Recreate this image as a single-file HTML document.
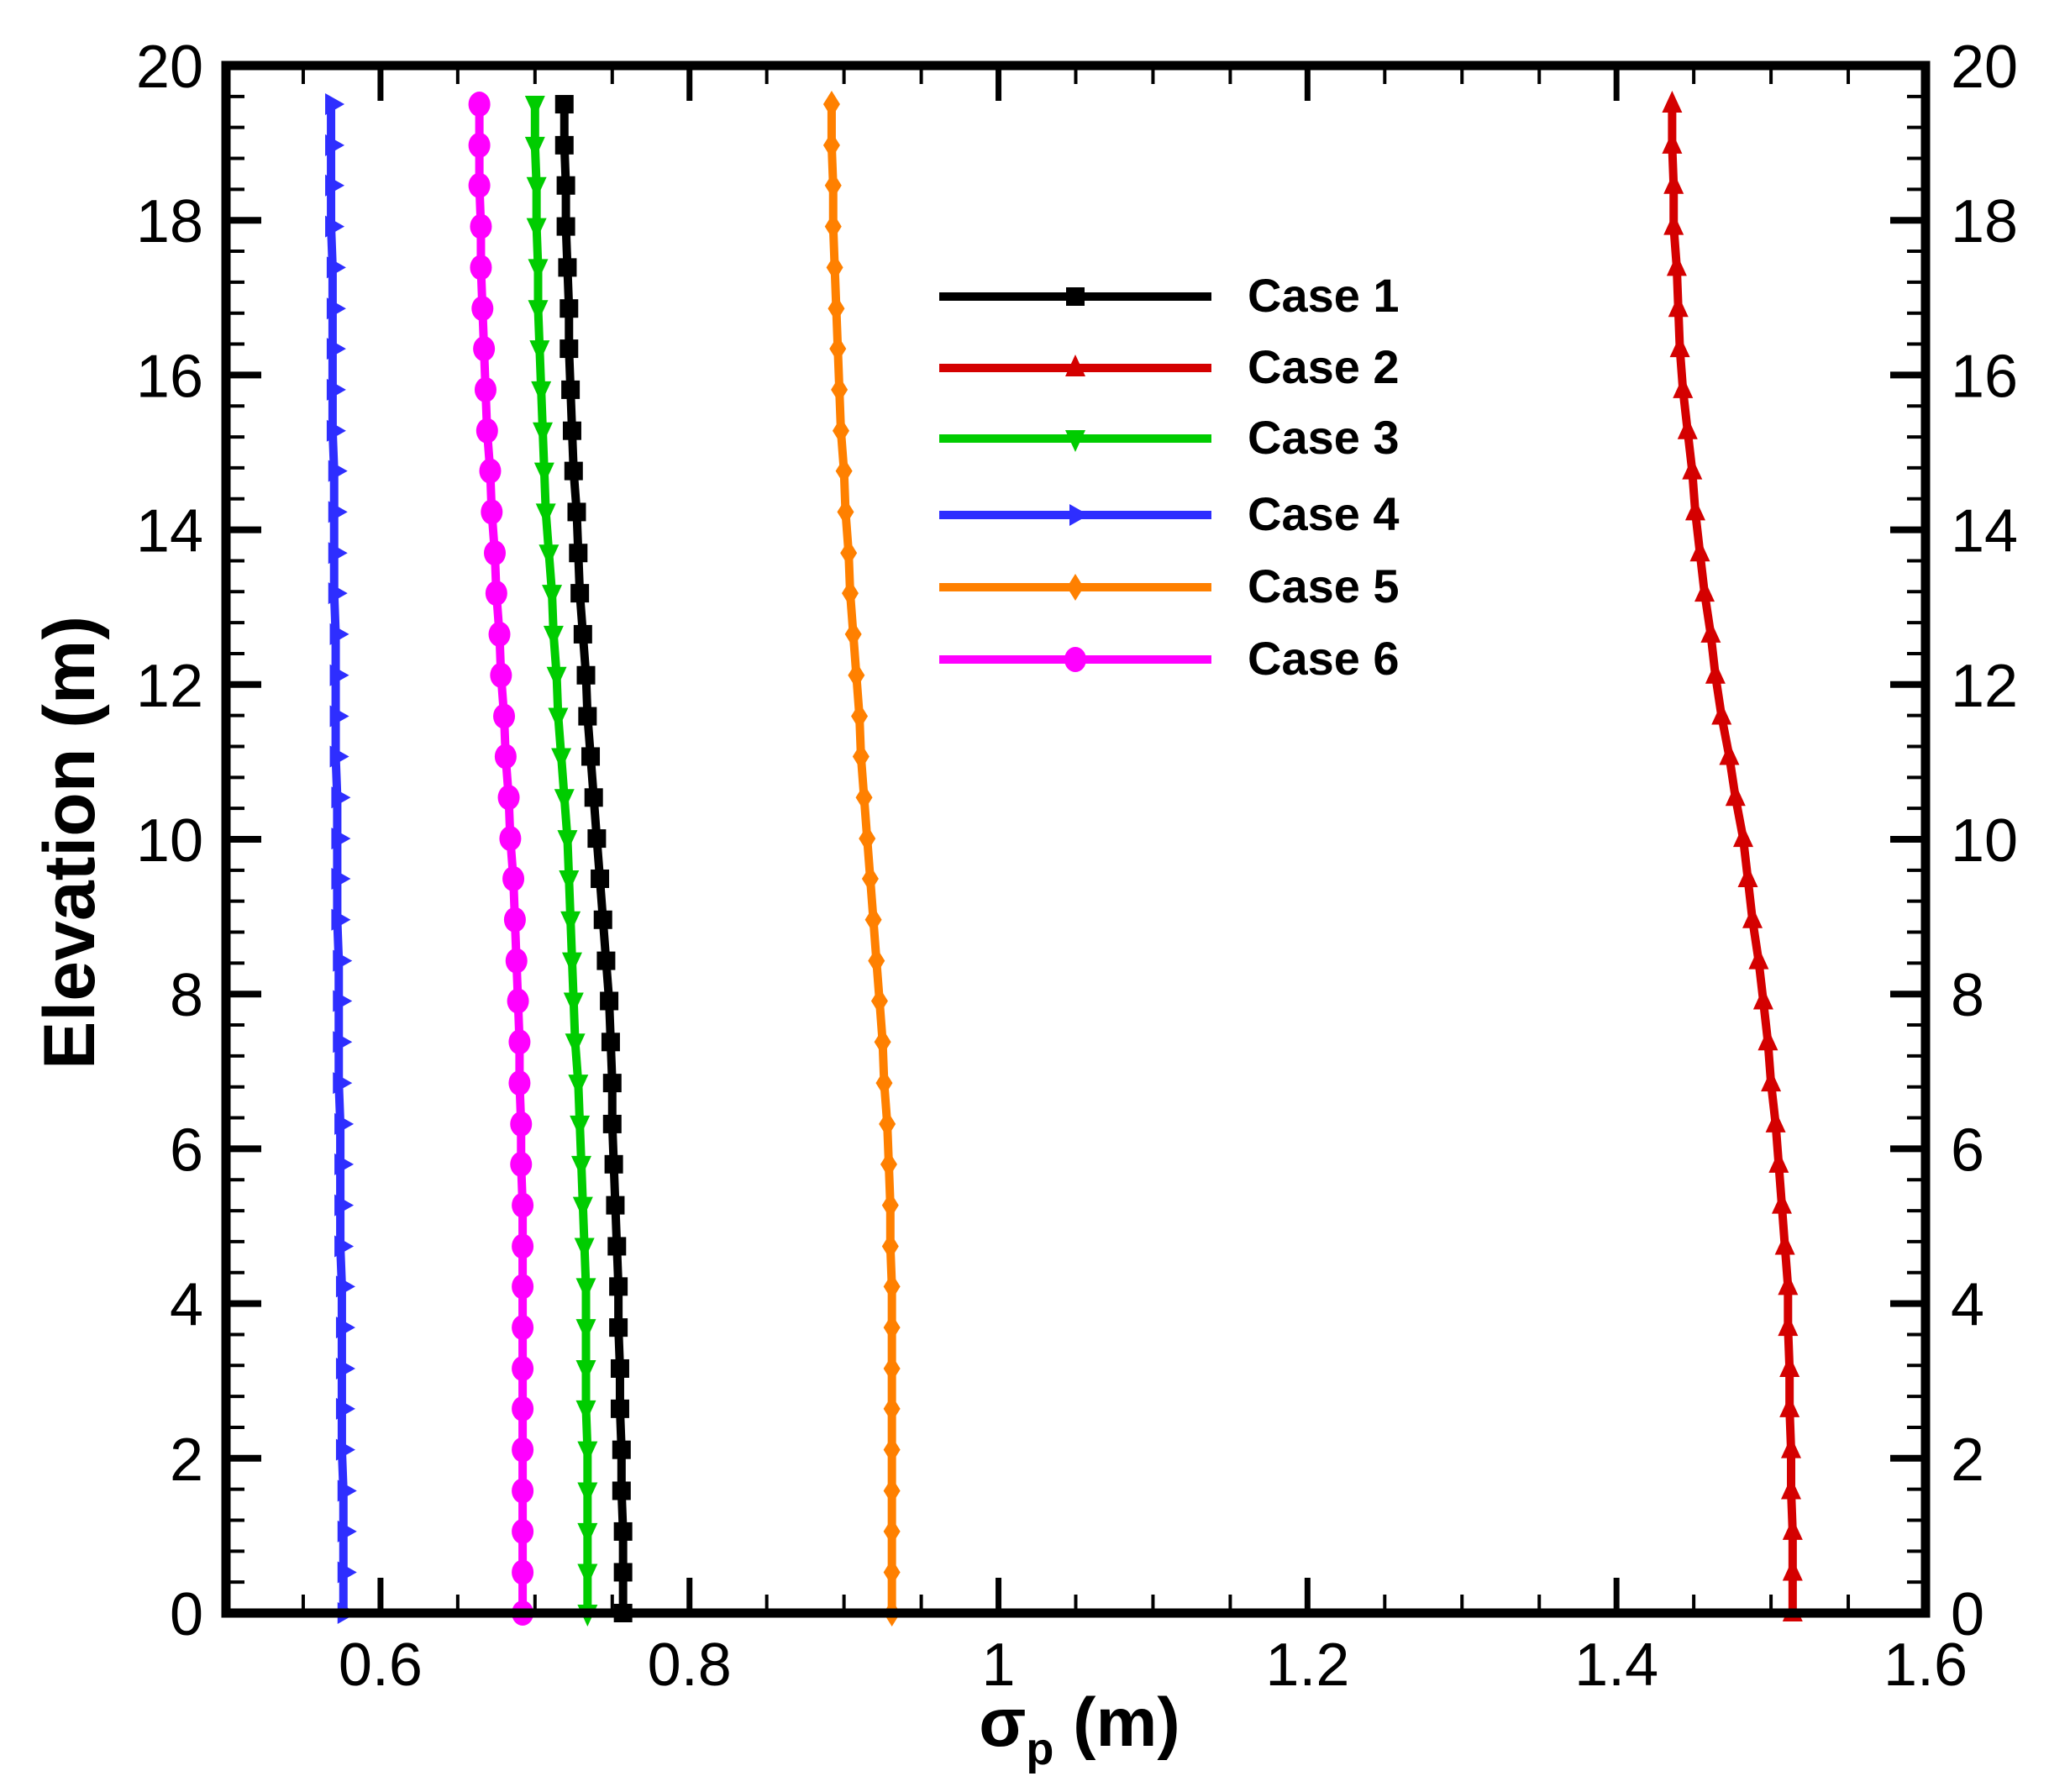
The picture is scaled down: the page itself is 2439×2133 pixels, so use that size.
<!DOCTYPE html>
<html><head><meta charset="utf-8"><style>
html,body{margin:0;padding:0;background:#fff;}
svg{display:block;font-family:"Liberation Sans",sans-serif;}
</style></head><body>
<svg id="chart" width="2439" height="2133" viewBox="0 0 2439 2133" xmlns="http://www.w3.org/2000/svg">
<g id="marks"></g>
<g id="axes"></g>
<g id="legend"></g>
<text x="1285" y="2078" text-anchor="middle" font-size="82" font-weight="bold">σ<tspan font-size="54" dy="22">p</tspan><tspan dy="-22"> (m)</tspan></text>
<text transform="translate(112,1003) rotate(-90)" text-anchor="middle" font-size="86" font-weight="bold">Elevation (m)</text>
</svg>
<script>
const seriesNames=["Case 1","Case 2","Case 3","Case 4","Case 5","Case 6"];
const elevations=[0,0.527,1.054,1.58,2.11,2.64,3.16,3.69,4.22,4.74,5.27,5.8,6.32,6.85,7.38,7.91,8.43,8.96,9.49,10.01,10.54,11.07,11.59,12.12,12.65,13.18,13.7,14.23,14.76,15.28,15.81,16.34,16.86,17.39,17.92,18.45,18.97,19.5];
const case1=[0.757,0.757,0.757,0.756,0.756,0.755,0.755,0.754,0.754,0.753,0.752,0.751,0.750,0.750,0.749,0.748,0.746,0.744,0.742,0.740,0.738,0.736,0.734,0.733,0.731,0.729,0.728,0.727,0.725,0.724,0.723,0.722,0.722,0.721,0.720,0.720,0.719,0.719];
const case2=[1.514,1.514,1.514,1.513,1.513,1.512,1.512,1.511,1.511,1.509,1.507,1.505,1.503,1.500,1.498,1.495,1.492,1.488,1.485,1.482,1.477,1.473,1.468,1.464,1.461,1.457,1.454,1.451,1.449,1.446,1.443,1.441,1.440,1.439,1.437,1.437,1.436,1.436];
const case3=[0.734,0.734,0.734,0.734,0.734,0.733,0.733,0.733,0.733,0.732,0.731,0.730,0.729,0.728,0.726,0.725,0.724,0.723,0.722,0.721,0.719,0.717,0.715,0.714,0.712,0.711,0.709,0.707,0.706,0.705,0.704,0.703,0.702,0.702,0.701,0.701,0.700,0.700];
const case4=[0.576,0.576,0.576,0.576,0.575,0.575,0.575,0.575,0.575,0.574,0.574,0.574,0.574,0.573,0.573,0.573,0.573,0.572,0.572,0.572,0.572,0.571,0.571,0.571,0.571,0.570,0.570,0.570,0.570,0.569,0.569,0.569,0.569,0.569,0.568,0.568,0.568,0.568];
const case5=[0.931,0.931,0.931,0.931,0.931,0.931,0.931,0.931,0.931,0.930,0.930,0.929,0.928,0.926,0.925,0.923,0.921,0.919,0.917,0.915,0.913,0.911,0.910,0.908,0.906,0.904,0.903,0.901,0.900,0.898,0.897,0.896,0.895,0.894,0.893,0.893,0.892,0.892];
const case6=[0.692,0.692,0.692,0.692,0.692,0.692,0.692,0.692,0.692,0.692,0.692,0.691,0.691,0.690,0.690,0.689,0.688,0.687,0.686,0.684,0.683,0.681,0.680,0.678,0.677,0.675,0.674,0.672,0.671,0.669,0.668,0.667,0.666,0.665,0.665,0.664,0.664,0.664];
const xTickLabels=["0.6","0.8","1","1.2","1.4","1.6"];
const xTickValues=[0.6,0.8,1.0,1.2,1.4,1.6];
const yTickLabels=["0","2","4","6","8","10","12","14","16","18","20"];
const yTickValues=[0,2,4,6,8,10,12,14,16,18,20];

const NS="http://www.w3.org/2000/svg";
const L=269,R=2292,T=78,B=1920,XMIN=0.5,XMAX=1.6,YMIN=0,YMAX=20;
const xs=v=>L+(v-XMIN)/(XMAX-XMIN)*(R-L);
const ys=v=>B-(v-YMIN)/(YMAX-YMIN)*(B-T);
function mk(tag,attrs,parent){const e=document.createElementNS(NS,tag);for(const k in attrs)e.setAttribute(k,attrs[k]);parent.appendChild(e);return e;}
const colors=["#000000","#d40000","#00cc00","#2e2eff","#ff8000","#ff00ff"];
const seriesData=[case1,case2,case3,case4,case5,case6];
const shapes=["square","up","down","right","diamond","circle"];
function marker(shape,x,y,color,parent,s){
  let e;
  if(shape==="square"){e=mk("rect",{x:x-11,y:y-11,width:22,height:22,fill:color},parent);}
  else if(shape==="circle"){e=mk("ellipse",{cx:x,cy:y,rx:13,ry:15,fill:color},parent);}
  else{let p;
    if(shape==="up")p=[[x,y-16],[x-12,y+10],[x+12,y+10]];
    else if(shape==="down")p=[[x,y+16],[x-12,y-10],[x+12,y-10]];
    else if(shape==="right")p=[[x+16,y],[x-7,y-13],[x-7,y+13]];
    else p=[[x,y-16],[x-10,y],[x,y+16],[x+10,y]];
    e=mk("polygon",{points:p.map(q=>q.join(",")).join(" "),fill:color},parent);}
  
  
}
const marks=document.getElementById("marks");
seriesData.forEach((arr,si)=>{
  const g=mk("g",{},marks);
  
  
  const pts=arr.map((v,i)=>xs(v)+","+ys(elevations[i])).join(" ");
  const pl=mk("polyline",{points:pts,fill:"none",stroke:colors[si],"stroke-width":10,"stroke-linejoin":"round"},g);
  
  
  arr.forEach((v,i)=>marker(shapes[si],xs(v),ys(elevations[i]),colors[si],g,'case-'+(si+1)));
});
const axes=document.getElementById("axes");
const frame=mk("rect",{x:L,y:T,width:R-L,height:B-T,fill:"none",stroke:"#000","stroke-width":11},axes);


for(let k=0;k<=22;k++){const v=0.5+k*0.05;const x=xs(v);const major=(k%4===2);const len=major?42:22;const w=major?7:4;
  mk("line",{x1:x,y1:B,x2:x,y2:B-len,stroke:"#000","stroke-width":w},axes);
  mk("line",{x1:x,y1:T,x2:x,y2:T+len,stroke:"#000","stroke-width":w},axes);}
xTickValues.forEach((v,i)=>{const t=mk("text",{x:xs(v),y:2006,"text-anchor":"middle","font-size":72},axes);t.textContent=xTickLabels[i];
  
  });
for(let k=0;k<=50;k++){const v=k*0.4;const y=ys(v);const major=k%5===0;const len=major?42:22;const w=major?8:4;
  mk("line",{x1:L,y1:y,x2:L+len,y2:y,stroke:"#000","stroke-width":w},axes);
  mk("line",{x1:R,y1:y,x2:R-len,y2:y,stroke:"#000","stroke-width":w},axes);}
yTickValues.forEach((v,i)=>{
  const t=mk("text",{x:242,y:ys(v)+26,"text-anchor":"end","font-size":72},axes);t.textContent=yTickLabels[i];
  
  
  const t2=mk("text",{x:2322,y:ys(v)+26,"text-anchor":"start","font-size":72},axes);t2.textContent=yTickLabels[i];
  
  
});
const legend=document.getElementById("legend");
const legY=[353,438,522,613,699,785];
seriesNames.forEach((n,i)=>{
  const g=mk("g",{},legend);
  
  
  mk("line",{x1:1118,y1:legY[i],x2:1442,y2:legY[i],stroke:colors[i],"stroke-width":10},g);
  marker(shapes[i],1280,legY[i],colors[i],g,'legend-case-'+(i+1));
  const t=mk("text",{x:1485,y:legY[i]+18,"font-size":56,"font-weight":"bold"},g);t.textContent=n;
  
  
});
</script>
</body></html>
